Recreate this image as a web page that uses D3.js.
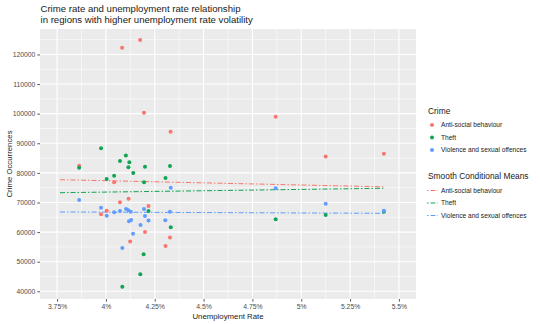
<!DOCTYPE html>
<html><head><meta charset="utf-8">
<script src="https://cdn.jsdelivr.net/npm/d3@7"></script>
<style>body{margin:0;background:#fff}svg{display:block;font-family:"Liberation Sans",Arial,sans-serif}</style>
</head><body><svg id="c" width="540" height="324"></svg>
<script>
const categories = ["Anti-social behaviour", "Theft", "Violence and sexual offences"];
const colors = ["#F8766D", "#12A455", "#619CFF"];
const antiX = [4.083,4.175,4.195,4.331,4.869,5.125,5.423,3.863,4.042,4.072,4.116,3.975,4.004,4.218,4.124,4.20,4.328,4.305];
const antiY = [122300,124900,100300,93900,99000,85500,86500,82400,76800,70100,71300,66000,67200,68800,56800,60000,58200,55300];
const theftX = [3.975,4.102,4.072,4.12,4.115,4.14,4.20,4.328,4.305,4.042,4.004,3.863,4.218,4.332,4.193,4.176,4.084,4.869,5.125,5.423,4.195];
const theftY = [88300,85900,84000,83600,81900,80000,82100,82300,78300,79000,77900,81700,67100,61600,52500,45800,41500,64300,65800,66900,76800];
const violX = [3.863,3.975,4.004,4.042,4.072,4.103,4.115,4.127,4.118,4.129,4.195,4.20,4.218,4.177,4.139,4.084,4.332,4.328,4.304,4.869,5.125,5.423];
const violY = [70800,68200,65500,66700,67100,67800,67400,66900,63700,64100,67800,65400,63900,62400,59400,54600,75000,66900,64000,74800,69600,67200];
const smoothX = [3.765, 5.42];
const smoothAnti = [77700, 75300];
const smoothTheft = [73300, 74800];
const smoothViol = [66800, 66350];
const xTicks = [3.75,4,4.25,4.5,4.75,5,5.25,5.5];
const xTickLabels = ["3.75%","4%","4.25%","4.5%","4.75%","5%","5.25%","5.5%"];
const yTicks = [40000,50000,60000,70000,80000,90000,100000,110000,120000];
const yTickLabels = ["40000","50000","60000","70000","80000","90000","100000","110000","120000"];

const svg = d3.select("#c");
const P = {l:40, r:416, t:29, b:299};
const x = d3.scaleLinear().domain([3.6625, 5.5875]).range([P.l, P.r]);
const y = d3.scaleLinear().domain([37400, 128600]).range([P.b, P.t]);

svg.append("rect").attr("x",P.l).attr("y",P.t).attr("width",P.r-P.l).attr("height",P.b-P.t).attr("fill","#EBEBEB");
const g = svg.append("g");
// minor grid
const xMinor = xTicks.slice(0,-1).map((d,i)=>(d+xTicks[i+1])/2);
const yMinor = yTicks.map(d=>d+5000).filter(d=>d<y.domain()[1]);
yMinor.unshift(35000);
g.selectAll(".xm").data(xMinor).join("line").attr("x1",d=>x(d)).attr("x2",d=>x(d)).attr("y1",P.t).attr("y2",P.b).attr("stroke","#fff").attr("stroke-width",0.55);
g.selectAll(".ym").data(yMinor.filter(d=>y(d)>P.t&&y(d)<P.b)).join("line").attr("y1",d=>y(d)).attr("y2",d=>y(d)).attr("x1",P.l).attr("x2",P.r).attr("stroke","#fff").attr("stroke-width",0.55);
g.selectAll(".xM").data(xTicks).join("line").attr("x1",d=>x(d)).attr("x2",d=>x(d)).attr("y1",P.t).attr("y2",P.b).attr("stroke","#fff").attr("stroke-width",1.1);
g.selectAll(".yM").data(yTicks).join("line").attr("y1",d=>y(d)).attr("y2",d=>y(d)).attr("x1",P.l).attr("x2",P.r).attr("stroke","#fff").attr("stroke-width",1.1);

// axes
const xa = svg.append("g").attr("transform",`translate(0,${P.b})`)
  .call(d3.axisBottom(x).tickValues(xTicks).tickFormat((d,i)=>xTickLabels[i]).tickSize(2.7).tickPadding(2));
const ya = svg.append("g").attr("transform",`translate(${P.l},0)`)
  .call(d3.axisLeft(y).tickValues(yTicks).tickFormat((d,i)=>yTickLabels[i]).tickSize(2.7).tickPadding(2));
[xa,ya].forEach(a=>{a.select(".domain").remove();a.selectAll("line").attr("stroke","#333").attr("stroke-width",0.8);
  a.selectAll("text").attr("fill","#4D4D4D").style("font-size","6.8px").style("font-family","Liberation Sans, Arial, sans-serif");});

// smooth lines
const dash = "5,2,1.5,2";
const smooths = [smoothAnti, smoothTheft, smoothViol];
const line = d3.line().x(d=>x(d[0])).y(d=>y(d[1]));
smooths.forEach((s,i)=>{
  svg.append("path").datum(smoothX.map((xx,j)=>[xx,s[j]])).attr("d",line).attr("fill","none")
    .attr("stroke",colors[i]).attr("stroke-width",1).attr("stroke-dasharray",dash);
});

// points
const series = [[antiX,antiY],[theftX,theftY],[violX,violY]];
series.forEach((s,i)=>{
  svg.append("g").selectAll("circle").data(s[0].map((xx,j)=>[xx,s[1][j]])).join("circle")
    .attr("cx",d=>x(d[0])).attr("cy",d=>y(d[1])).attr("r",2).attr("fill",colors[i]);
});

// titles
const T = svg.append("g").attr("fill","#1a1a1a");
T.append("text").attr("x",40.5).attr("y",12).style("font-size","9.6px").text("Crime rate and unemployment rate relationship");
T.append("text").attr("x",40.5).attr("y",22.5).style("font-size","9.6px").text("in regions with higher unemployment rate volatility");
T.append("text").attr("x",(P.l+P.r)/2).attr("y",319).attr("text-anchor","middle").style("font-size","7.8px").text("Unemployment Rate");
T.append("text").attr("transform",`translate(11.5,${(P.t+P.b)/2}) rotate(-90)`).attr("text-anchor","middle").style("font-size","7.8px").text("Crime Occurrences");

// legends
const L = svg.append("g").attr("fill","#1a1a1a");
L.append("text").attr("x",428).attr("y",114).style("font-size","8.4px").text("Crime");
const ky = [125, 137.5, 150];
categories.forEach((c,i)=>{
  L.append("circle").attr("cx",432).attr("cy",ky[i]).attr("r",2).attr("fill",colors[i]);
  L.append("text").attr("x",441).attr("y",ky[i]+2.3).style("font-size","6.6px").text(c);
});
L.append("text").attr("x",428).attr("y",179).style("font-size","8.4px").text("Smooth Conditional Means");
const ly = [190.5, 203, 215.5];
categories.forEach((c,i)=>{
  L.append("line").attr("x1",427).attr("x2",438).attr("y1",ly[i]).attr("y2",ly[i]).attr("stroke",colors[i]).attr("stroke-width",1).attr("stroke-dasharray","1.5,2,5,2");
  L.append("text").attr("x",441).attr("y",ly[i]+2.3).style("font-size","6.6px").text(c);
});
</script></body></html>
